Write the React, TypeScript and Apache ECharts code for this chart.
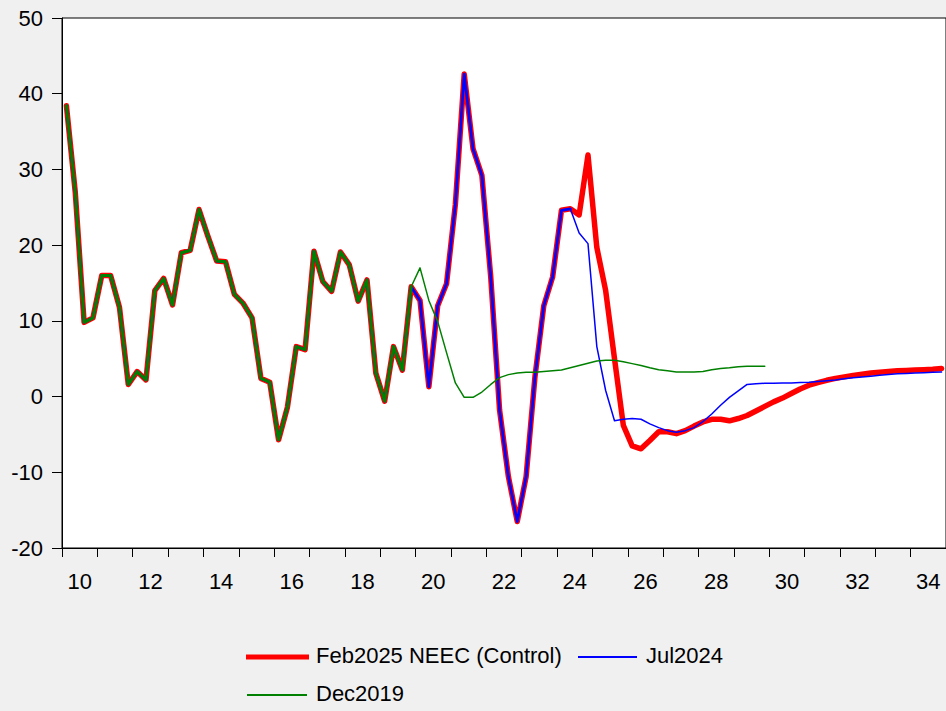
import React, { useEffect, useRef } from "react";
import * as echarts from "echarts";

// Year labels (two-digit) for the bottom axis, one per year band
const yearLabels: string[] = [
  "10", "11", "12", "13", "14", "15", "16", "17", "18", "19",
  "20", "21", "22", "23", "24", "25", "26", "27", "28", "29",
  "30", "31", "32", "33", "34",
];
const quarterNames: string[] = ["Q1", "Q2", "Q3", "Q4"];
// Quarterly categories 2010Q1 .. 2034Q4
const quarters: string[] = yearLabels.flatMap((y) => quarterNames.map((q) => `20${y}${q}`));

// Shared history 2010Q1 .. 2019Q4
const sharedHistory: number[] = [
  38.4, 27.0, 9.8, 10.4, 16.0, 16.0, 11.8, 1.6, 3.3, 2.2,
  14.0, 15.6, 12.1, 19.0, 19.3, 24.7, 21.2, 17.9, 17.8, 13.5,
  12.3, 10.4, 2.4, 1.9, -5.7, -1.4, 6.6, 6.2, 19.2, 15.2,
  13.9, 19.1, 17.4, 12.6, 15.4, 3.1, -0.6, 6.6, 3.5, 14.5,
];
// Outturn 2020Q1 .. 2024Q2 (shared by Feb2025 and Jul2024)
const outturn2020to2024: number[] = [
  12.7, 1.3, 12.0, 14.9, 25.4, 42.6, 32.7, 29.2, 15.8, -1.8,
  -10.6, -16.5, -10.6, 2.6, 12.0, 15.8, 24.6, 24.8,
];
// Feb2025 NEEC (Control) path 2024Q3 .. 2034Q4
const feb2025Path: number[] = [
  24.0, 31.9, 19.7, 14.0, 5.0, -3.8, -6.5, -6.9, -5.8, -4.65,
  -4.65, -4.9, -4.5, -3.9, -3.35, -3.0, -3.0, -3.2, -2.9, -2.5,
  -1.9, -1.3, -0.7, -0.2, 0.4, 1.0, 1.5, 1.85, 2.15, 2.4,
  2.6, 2.8, 2.95, 3.1, 3.2, 3.3, 3.4, 3.45, 3.5, 3.55,
  3.6, 3.7,
];
// Jul2024 path 2024Q3 .. 2034Q4
const jul2024Path: number[] = [
  21.6, 20.2, 6.6, 0.8, -3.2, -3.0, -2.9, -3.0, -3.6, -4.1,
  -4.5, -4.7, -4.5, -4.1, -3.3, -2.3, -1.15, -0.1, 0.75, 1.6,
  1.7, 1.75, 1.75, 1.8, 1.8, 1.85, 1.9, 2.0, 2.1, 2.2,
  2.35, 2.5, 2.6, 2.7, 2.8, 2.9, 3.0, 3.05, 3.1, 3.15,
  3.2, 3.25,
];
// Dec2019 path 2020Q1 .. 2029Q4
const dec2019Path: number[] = [
  17.0, 12.7, 9.9, 5.8, 1.8, -0.1, -0.1, 0.6, 1.6, 2.5,
  2.9, 3.1, 3.2, 3.2, 3.3, 3.4, 3.5, 3.8, 4.1, 4.4,
  4.7, 4.8, 4.8, 4.6, 4.35, 4.1, 3.8, 3.55, 3.4, 3.25,
  3.25, 3.25, 3.3, 3.55, 3.7, 3.8, 3.95, 4.0, 4.0, 4.0,
];

const seriesNames = ["Feb2025 NEEC (Control)", "Jul2024", "Dec2019"];
const colors = ["#ff0000", "#0000ff", "#008000"];

const FONT = '"Liberation Sans", Arial, Helvetica, sans-serif';

export default function App() {
  const ref = useRef<HTMLDivElement>(null);

  useEffect(() => {
    if (!ref.current) return;
    const chart = echarts.init(ref.current, undefined, { renderer: "svg" });

    const redData = [...sharedHistory, ...outturn2020to2024, ...feb2025Path];
    const blueData = [...sharedHistory, ...outturn2020to2024, ...jul2024Path];
    const blueHist = [...sharedHistory, ...outturn2020to2024];
    const greenData = [...sharedHistory, ...dec2019Path];
    const greenHist = [...sharedHistory];

    const lineSeries = (name: string, data: number[], color: string, width: number) => ({
      name,
      type: "line",
      data,
      symbol: "none",
      showSymbol: false,
      connectNulls: false,
      silent: true,
      lineStyle: { color, width, join: "round", cap: "round" },
      itemStyle: { color },
      emphasis: { disabled: true },
    });

    const legendRow1Y = 657;
    const legendRow2Y = 695;

    chart.setOption({
      animation: false,
      backgroundColor: "#f0f0f0",
      textStyle: { fontFamily: FONT },
      grid: {
        left: 62,
        top: 18,
        right: -2,
        bottom: 163,
        show: true,
        backgroundColor: "#ffffff",
        borderColor: "#000000",
        borderWidth: 1,
        containLabel: false,
      },
      xAxis: [
        {
          type: "category",
          data: quarters,
          boundaryGap: true,
          position: "top",
          show: false,
        },
        {
          type: "category",
          data: yearLabels,
          boundaryGap: true,
          position: "bottom",
          axisLine: { show: true, lineStyle: { color: "#000", width: 1 } },
          axisTick: { show: true, interval: 0, length: 9, alignWithLabel: false, lineStyle: { color: "#000" } },
          axisLabel: { interval: 1, margin: 22, fontSize: 22, color: "#000", fontFamily: FONT },
          splitLine: { show: false },
        },
      ],
      yAxis: {
        type: "value",
        min: -20,
        max: 50,
        interval: 10,
        axisLine: { show: true, lineStyle: { color: "#000", width: 1 } },
        axisTick: { show: true, length: 10, lineStyle: { color: "#000" } },
        axisLabel: { margin: 19, fontSize: 22, color: "#000", fontFamily: FONT },
        splitLine: { show: false },
      },
      series: [
        lineSeries(seriesNames[0], redData, colors[0], 5.5),
        lineSeries(seriesNames[1], blueData, colors[1], 1.5),
        lineSeries(seriesNames[1] + " history", blueHist, colors[1], 2.75),
        lineSeries(seriesNames[2], greenData, colors[2], 1.5),
        lineSeries(seriesNames[2] + " history", greenHist, colors[2], 3),
      ],
      graphic: [
        { type: "line", shape: { x1: 246, y1: legendRow1Y, x2: 309, y2: legendRow1Y }, style: { stroke: colors[0], lineWidth: 5 } },
        { type: "text", x: 316, y: legendRow1Y - 1.5, style: { text: seriesNames[0], fill: "#000", fontSize: 22, fontFamily: FONT, verticalAlign: "middle", align: "left" } },
        { type: "line", shape: { x1: 578, y1: legendRow1Y, x2: 637, y2: legendRow1Y }, style: { stroke: colors[1], lineWidth: 2 } },
        { type: "text", x: 646, y: legendRow1Y - 1.5, style: { text: seriesNames[1], fill: "#000", fontSize: 22, fontFamily: FONT, verticalAlign: "middle", align: "left" } },
        { type: "line", shape: { x1: 247, y1: legendRow2Y, x2: 307, y2: legendRow2Y }, style: { stroke: colors[2], lineWidth: 2 } },
        { type: "text", x: 316, y: legendRow2Y - 1.5, style: { text: seriesNames[2], fill: "#000", fontSize: 22, fontFamily: FONT, verticalAlign: "middle", align: "left" } },
      ],
    });

    return () => chart.dispose();
  }, []);

  return (
    <div
      ref={ref}
      style={{ position: "absolute", left: 0, top: 0, width: 946, height: 711 }}
    />
  );
}
